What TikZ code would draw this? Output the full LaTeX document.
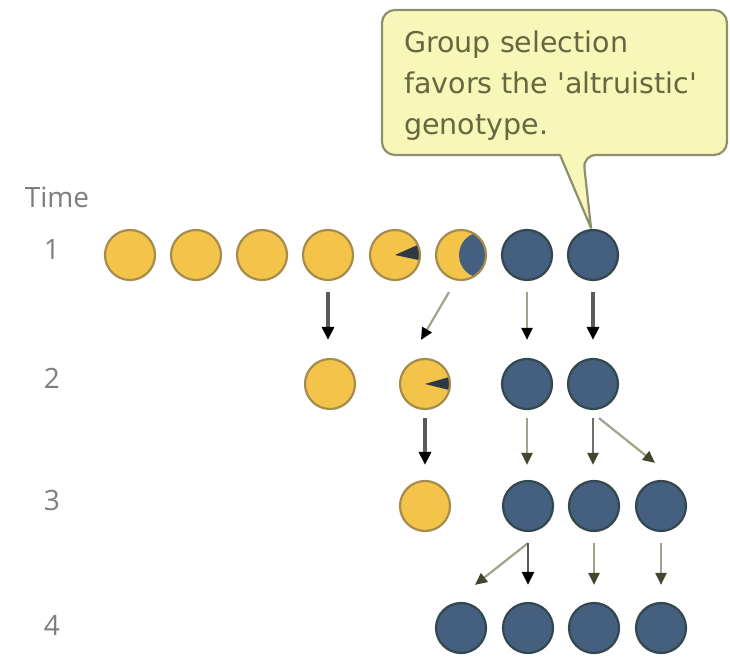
\documentclass[tikz,border=0pt]{standalone}
\usepackage{fontspec}
\setmainfont{DejaVu Sans}
\newfontfamily\labelfont{Open Sans}
\usetikzlibrary{arrows.meta,calc}

\definecolor{gold}{HTML}{F4C44A}
\definecolor{goldline}{HTML}{A68C4C}
\definecolor{slate}{HTML}{44607E}
\definecolor{slateline}{HTML}{34474F}
\definecolor{wedgedark}{HTML}{2E3946}
\definecolor{note}{HTML}{F7F7BA}
\definecolor{noteline}{HTML}{8E8F6C}
\definecolor{notetext}{HTML}{66673F}
\definecolor{labelgray}{HTML}{7E7E7E}
\definecolor{shaftdark}{HTML}{5A5A5A}
\definecolor{shaftlight}{HTML}{A3A38C}
\definecolor{headolive}{HTML}{45452F}

\tikzset{
  ind/.style={circle, minimum size=50pt, inner sep=0pt, line width=2.2pt},
  yel/.style={ind, fill=gold, draw=goldline},
  dk/.style={ind, fill=slate, draw=slateline},
  pacman/.style 2 args={path picture={
      \fill[wedgedark] (path picture bounding box.center) -- ++(#1:30)
        arc[start angle=#1, end angle=#2, radius=30] -- cycle;}},
  crescent/.style={path picture={
      \fill[slate] ($(path picture bounding box.center)+(21,0)$) circle[radius=23];}},
  timelabel/.style={text=labelgray, font=\labelfont\fontsize{28}{28}\selectfont, inner sep=0pt},
  darr/.style={line width=3.4pt, draw=shaftdark,
      -{Triangle[length=13pt, width=12pt, color=black]}},
  marr/.style={line width=2.6pt, draw=shaftdark!70!shaftlight,
      -{Triangle[length=12pt, width=11pt, color=headolive]}},
  larr/.style={line width=2.2pt, draw=shaftlight,
      -{Triangle[length=12pt, width=11pt, color=headolive]}},
  lblk/.style={line width=2.2pt, draw=shaftlight,
      -{Triangle[length=12pt, width=11pt, color=black]}},
}

\begin{document}
\begin{tikzpicture}[x=1pt, y=1pt]
  \useasboundingbox (0,0) rectangle (730,656);
  \fill[white] (0,0) rectangle (730,656);

  % time axis labels
  \node[timelabel] (time) at (57,459) {Time};
  \node[timelabel] (t1) at (52,406) {1};
  \node[timelabel] (t2) at (52,278) {2};
  \node[timelabel] (t3) at (52,156) {3};
  \node[timelabel] (t4) at (52,31) {4};

  % generation 1
  \node[yel] (a1) at (130,401) {};
  \node[yel] (a2) at (196,401) {};
  \node[yel] (a3) at (262,401) {};
  \node[yel] (a4) at (328,401) {};
  \node[yel, pacman={-12}{24}] (a5) at (395,401) {};
  \node[yel, crescent] (a6) at (461,401) {};
  \node[dk] (a7) at (527,401) {};
  \node[dk] (a8) at (593,401) {};

  % generation 2
  \node[yel] (b1) at (330,272) {};
  \node[yel, pacman={-14}{16}] (b2) at (425,272) {};
  \node[dk] (b3) at (527,272) {};
  \node[dk] (b4) at (593,272) {};

  % generation 3
  \node[yel] (c1) at (425,150) {};
  \node[dk] (c2) at (528,150) {};
  \node[dk] (c3) at (594,150) {};
  \node[dk] (c4) at (661,150) {};

  % generation 4
  \node[dk] (d1) at (461,28) {};
  \node[dk] (d2) at (528,28) {};
  \node[dk] (d3) at (594,28) {};
  \node[dk] (d4) at (661,28) {};

  % descent 1 -> 2
  \draw[darr] ([yshift=-11pt]a4.south) -- ([yshift=18pt]a4.south |- b1.north);
  \draw[lblk] ([xshift=-12pt,yshift=-11pt]a6.south) -- ([xshift=-4pt,yshift=18pt]b2.north);
  \draw[lblk] ([yshift=-11pt]a7.south) -- ([yshift=18pt]b3.north);
  \draw[darr] ([yshift=-11pt]a8.south) -- ([yshift=18pt]b4.north);

  % descent 2 -> 3
  \draw[darr] ([yshift=-8pt]b2.south) -- ([yshift=15pt]c1.north);
  \draw[larr] ([yshift=-8pt]b3.south) -- ([yshift=15pt]b3.south |- c2.north);
  \draw[marr] ([yshift=-8pt]b4.south) -- ([yshift=15pt]b4.south |- c3.north);
  \draw[larr] ([xshift=6pt,yshift=-8pt]b4.south) -- ([xshift=-6pt,yshift=17pt]c4.north);

  % descent 3 -> 4
  \draw[larr] ([yshift=-11pt]c2.south) -- ([xshift=14pt,yshift=17pt]d1.north);
  \draw[darr, line width=2.6pt] ([yshift=-11pt]c2.south) -- ([yshift=17pt]d2.north);
  \draw[larr] ([yshift=-11pt]c3.south) -- ([yshift=17pt]d3.north);
  \draw[larr] ([yshift=-11pt]c4.south) -- ([yshift=17pt]d4.north);

  % speech bubble pointing at the altruistic genotype
  \draw[fill=note, draw=noteline, line width=2.2pt, line join=round]
    (583,501) -- ([xshift=-2pt,yshift=1pt]a8.north) -- (560,501)
    [rounded corners=13] -- (382,501) -- (382,646) -- (727,646) -- (727,501) -- cycle;
  \node[anchor=north west, align=left, inner sep=0pt, text=notetext,
        font=\fontsize{28.5}{41}\selectfont] (msg) at (404,625)
    {Group selection\\favors the \textquotesingle altruistic\textquotesingle\\genotype.};
\end{tikzpicture}
\end{document}
